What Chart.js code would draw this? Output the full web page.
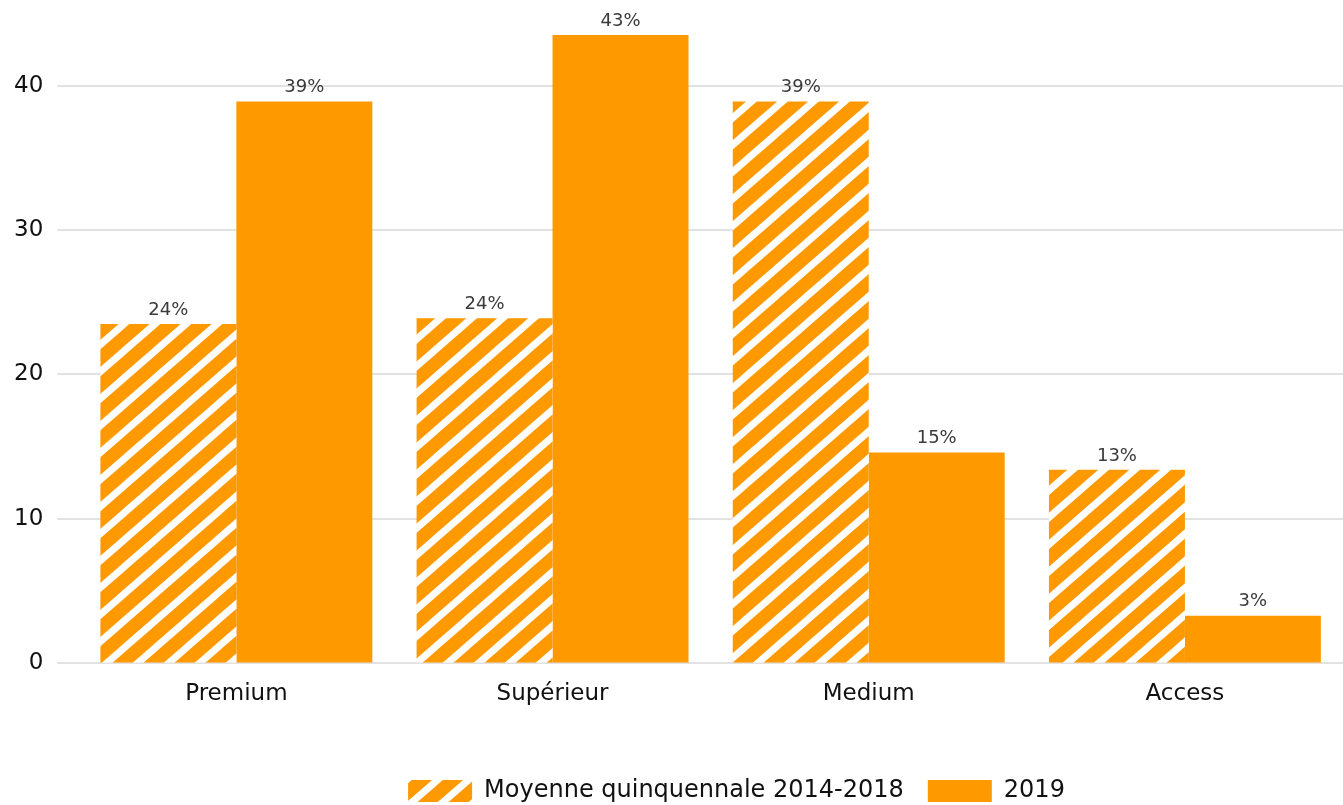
<!DOCTYPE html>
<html lang="fr">
<head>
    <meta charset="utf-8">
    <title>Segments</title>
    <script src="https://cdn.jsdelivr.net/npm/chart.js@4/dist/chart.umd.min.js"></script>
    <style>
        html, body { margin: 0; padding: 0; background: #fff; overflow: hidden; }
        #wrap { width: 1343px; height: 805px; }
    </style>
</head>
<body>
<div id="wrap"><canvas id="graph" width="1343" height="805"></canvas></div>

<script>
    // Data
    var CATEGORIES = ["Premium", "Supérieur", "Medium", "Access"];
    var AVG_2014_2018 = [23.5, 23.9, 38.9, 13.4];
    var YEAR_2019 = [38.9, 43.5, 14.6, 3.3];
    var AVG_LABELS = ["24%", "24%", "39%", "13%"];
    var Y2019_LABELS = ["39%", "43%", "15%", "3%"];
    var SERIES_NAMES = ["Moyenne quinquennale 2014-2018", "2019"];

    var ORANGE = "#ff9900";

    // hatch pattern, white stripes going up to the right
    function makeHatch() {
        var w = 31, h = 27;
        var c = document.createElement("canvas");
        c.width = w; c.height = h;
        var ctx = c.getContext("2d");
        ctx.fillStyle = ORANGE;
        ctx.fillRect(0, 0, w, h);
        ctx.strokeStyle = "#fff";
        ctx.lineWidth = 7;
        [-w, 0, w].forEach(function(dx) {
            ctx.beginPath();
            ctx.moveTo(dx - w, 2 * h);
            ctx.lineTo(dx + 2 * w, -h);
            ctx.stroke();
        });
        return ctx.createPattern(c, "repeat");
    }

    // value labels above each bar
    var barLabels = {
        id: "barLabels",
        afterDatasetsDraw: function(chart) {
            var ctx = chart.ctx;
            var sets = [AVG_LABELS, Y2019_LABELS];
            ctx.save();
            ctx.font = "18px 'DejaVu Sans'";
            ctx.fillStyle = "#3a3a3a";
            ctx.textAlign = "center";
            ctx.textBaseline = "bottom";
            sets.forEach(function(texts, di) {
                chart.getDatasetMeta(di).data.forEach(function(bar, i) {
                    ctx.fillText(texts[i], bar.x, bar.y - 5);
                });
            });
            ctx.restore();
        }
    };

    // legend sits a bit right of centre in the original
    var legendShift = {
        id: "legendShift",
        afterLayout: function(chart) {
            chart.legend.left += 65;
            chart.legend.right += 65;
        }
    };

    var chart = new Chart(document.getElementById("graph").getContext("2d"), {
        type: "bar",
        data: {
            labels: CATEGORIES,
            datasets: [
                {
                    label: SERIES_NAMES[0],
                    data: AVG_2014_2018,
                    backgroundColor: makeHatch(),
                    borderWidth: 0
                },
                {
                    label: SERIES_NAMES[1],
                    data: YEAR_2019,
                    backgroundColor: ORANGE,
                    borderWidth: 0
                }
            ]
        },
        options: {
            responsive: false,
            animation: false,
            categoryPercentage: 0.86,
            barPercentage: 1.0,
            layout: { padding: { top: 0, right: 0, left: 0, bottom: -8 } },
            plugins: {
                tooltip: { enabled: false },
                legend: {
                    position: "bottom",
                    labels: {
                        boxWidth: 64,
                        boxHeight: 22,
                        padding: 24,
                        color: "#111",
                        font: { family: "'DejaVu Sans'", size: 24 }
                    }
                }
            },
            scales: {
                x: {
                    grid: { display: false },
                    border: { display: false },
                    ticks: {
                        color: "#111",
                        padding: 9,
                        font: { family: "'DejaVu Sans'", size: 23 }
                    },
                    afterFit: function(scale) { scale.height += 38; }
                },
                y: {
                    min: 0,
                    max: 44,
                    border: { display: false },
                    grid: { color: "#e2e2e2", lineWidth: 2, tickLength: 21 },
                    ticks: {
                        stepSize: 10,
                        color: "#111",
                        padding: 14,
                        font: { family: "'DejaVu Sans'", size: 23 }
                    },
                    afterBuildTicks: function(axis) {
                        axis.ticks = axis.ticks.filter(function(t) { return t.value % 10 === 0; });
                    }
                }
            }
        },
        plugins: [barLabels, legendShift]
    });
</script>
</body>
</html>
